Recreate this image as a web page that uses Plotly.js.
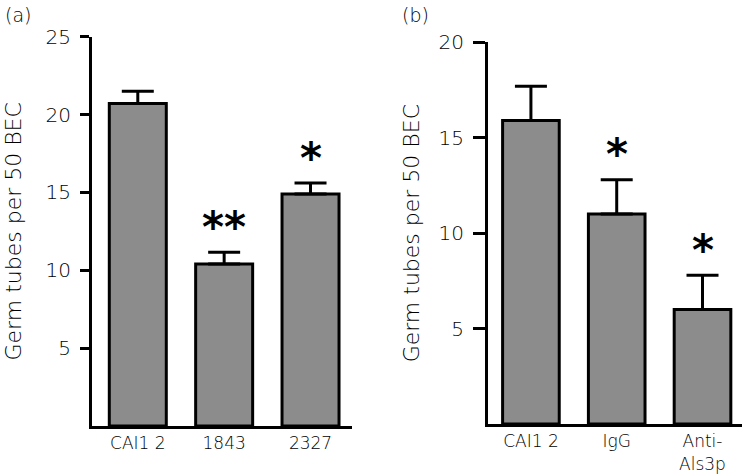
<!DOCTYPE html>
<html>
<head>
<meta charset="utf-8">
<script src="https://cdn.plot.ly/plotly-3.0.1.min.js"></script>
<style>html,body{margin:0;padding:0;background:#fff;}#chart{width:750px;height:476px;}</style>
</head>
<body>
<div id="chart"></div>
<script>
// Panel (a)
var catsA = ['CAI12', '1843', '2327'];
var labelsA = ['CAI1 2', '1843', '2327'];
var valsA = [20.7, 10.4, 14.9];
var errA = [0.8, 0.75, 0.7];
var sigA = ['', '**', '*'];
var ticksA = [5, 10, 15, 20, 25];

// Panel (b)
var catsB = ['CAI12', 'IgG', 'Anti-Als3p'];
var labelsB = ['CAI1 2', 'IgG', 'Anti-<br>Als3p'];
var valsB = [15.9, 11.0, 6.0];
var errB = [1.8, 1.8, 1.8];
var sigB = ['', '*', '*'];
var ticksB = [5, 10, 15, 20];

var yTitle = 'Germ tubes per 50 BEC';
var fontFam = 'DejaVu Sans, sans-serif';
var txtColor = '#000';
var txtWeight = 200;
var barFill = '#8c8c8c';

function barTrace(labels, vals, errs, xa, ya) {
  return {
    type: 'bar', x: labels.map(function(_, i){return i;}), y: vals, xaxis: xa, yaxis: ya,
    width: 0.66,
    marker: {color: barFill, line: {color: '#000', width: 3}},
    error_y: {type: 'data', symmetric: false, array: errs,
              arrayminus: errs.map(function(){return 0;}),
              color: '#000', thickness: 3, width: 16},
    hoverinfo: 'none', showlegend: false
  };
}

var data = [
  barTrace(catsA, valsA, errA, 'x', 'y'),
  barTrace(catsB, valsB, errB, 'x2', 'y2')
];

var annotations = [];
function addSig(cats, vals, errs, sig, xr, yr, offs) {
  for (var i = 0; i < cats.length; i++) {
    if (!sig[i]) continue;
    annotations.push({
      x: i, y: vals[i] + errs[i] + offs, xref: xr, yref: yr,
      text: sig[i], showarrow: false,
      font: {family: 'DejaVu Sans, sans-serif', size: 42, color: '#000', weight: 'bold'},
      yanchor: 'middle', xanchor: 'center'
    });
  }
}
addSig(catsA, valsA, errA, sigA, 'x', 'y', 1.6);
addSig(catsB, valsB, errB, sigB, 'x2', 'y2', 1.3);

annotations.push({text: '(a)', x: 0.004, y: 0.995, xref: 'paper', yref: 'paper',
  xanchor: 'left', yanchor: 'top', showarrow: false,
  font: {family: fontFam, size: 19, color: txtColor, weight: txtWeight}});
annotations.push({text: '(b)', x: 0.533, y: 0.995, xref: 'paper', yref: 'paper',
  xanchor: 'left', yanchor: 'top', showarrow: false,
  font: {family: fontFam, size: 19, color: txtColor, weight: txtWeight}});

function xAxis(domain, labels, anchor, range) {
  return {
    domain: domain, anchor: anchor, range: range,
    showline: true, linecolor: '#000', linewidth: 3,
    ticks: '', tickvals: labels.map(function(_, i){return i;}), ticktext: labels,
    tickfont: {family: fontFam, size: 17, color: txtColor, weight: txtWeight},
    showgrid: false, zeroline: false, fixedrange: true
  };
}
function yAxis(domain, range, ticks, anchor, tlen, stand) {
  return {
    domain: domain, anchor: anchor, range: range,
    showline: true, linecolor: '#000', linewidth: 3,
    ticks: 'outside', ticklen: tlen, tickwidth: 3, tickcolor: '#000',
    tickvals: ticks, ticktext: ticks.map(String),
    tickfont: {family: fontFam, size: 20, color: txtColor, weight: txtWeight},
    ticklabelstandoff: 5,
    showgrid: false, zeroline: false, fixedrange: true,
    title: {text: yTitle, font: {family: fontFam, size: 22, color: txtColor, weight: txtWeight}, standoff: stand}
  };
}

var layout = {
  width: 750, height: 476,
  margin: {l: 0, r: 0, t: 0, b: 0},
  paper_bgcolor: '#fff', plot_bgcolor: '#fff',
  xaxis: xAxis([0.1227, 0.4693], labelsA, 'y', [-0.53, 2.48]),
  yaxis: yAxis([0.105, 0.923], [0, 25], ticksA, 'x', 9, 18),
  xaxis2: xAxis([0.6507, 0.9893], labelsB, 'y2', [-0.5, 2.46]),
  yaxis2: yAxis([0.1092, 0.9111], [0, 20], ticksB, 'x2', 12, 13),
  annotations: annotations
};

Plotly.newPlot('chart', data, layout, {displayModeBar: false, staticPlot: true});
</script>
</body>
</html>
